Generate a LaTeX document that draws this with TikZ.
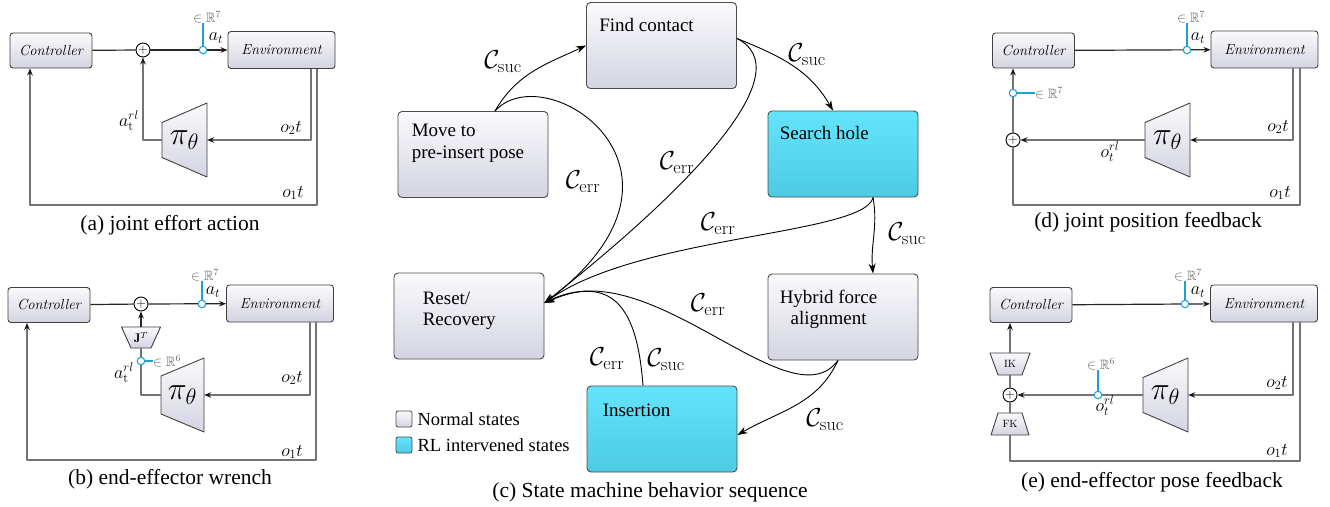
\RequirePackage{fix-cm}
\documentclass[tikz,border=0pt]{standalone}
\usepackage{amssymb}
\usepackage{fontspec}
\newfontfamily\capfont{Liberation Serif}
\usetikzlibrary{arrows.meta}

\definecolor{blocktop}{RGB}{250,250,252}
\definecolor{blockbot}{RGB}{212,212,226}
\definecolor{rltop}{RGB}{100,228,252}
\definecolor{rlbot}{RGB}{78,202,228}
\definecolor{tapblue}{RGB}{30,160,215}

\begin{document}
\begin{tikzpicture}[x=1pt, y=-1pt, line join=round,
    >={Stealth[length=7pt, width=5.5pt, color=black!90]},
    blk/.style={rectangle, rounded corners=3pt, draw=black!75, line width=0.9pt,
        top color=blocktop, bottom color=blockbot,
        minimum width=82pt, minimum height=35pt,
        font=\fontsize{14.6}{16}\selectfont\itshape},
    envblk/.style={blk, minimum width=107pt, minimum height=37pt},
    trap/.style={draw=black!75, line width=0.9pt, top color=blocktop, bottom color=blockbot},
    sum/.style={circle, draw=black, line width=0.9pt, fill=white, minimum size=14pt,
        inner sep=0pt, font=\fontsize{13}{13}\selectfont},
    tap/.style={circle, draw=tapblue, line width=1.1pt, fill=white, minimum size=7.5pt, inner sep=0pt},
    tapline/.style={draw=tapblue, line width=1.1pt},
    sig/.style={draw=black!85, line width=1.2pt},
    obs/.style={draw=black!55, line width=1.6pt},
    lab/.style={font=\fontsize{18}{20}\selectfont, inner sep=0pt},
    dimlab/.style={text=black!60, font=\fontsize{13.5}{15}\selectfont, inner sep=0pt},
    subcap/.style={font=\capfont\fontsize{21.5}{24}\selectfont},
    state/.style={rectangle, rounded corners=4pt, draw=black!70, line width=0.9pt,
        top color=blocktop, bottom color=blockbot, minimum width=150pt, minimum height=86pt},
    rlstate/.style={state, top color=rltop, bottom color=rlbot},
    stext/.style={anchor=north west, inner sep=0pt, align=left,
        font=\capfont\fontsize{19}{21.5}\selectfont},
    trans/.style={draw=black, line width=0.9pt, -{Stealth[length=10pt, width=7pt]}},
    clab/.style={font=\fontsize{26}{28}\selectfont, inner sep=0pt},
    legbox/.style={rectangle, rounded corners=2pt, draw=black!70, line width=0.8pt,
        minimum size=16pt, inner sep=0pt},
    legtext/.style={anchor=west, inner sep=0pt, font=\capfont\fontsize{18.5}{20}\selectfont}]

% trapezoids: name, x, y, half width, left half height, right half height, text
\newcommand{\vtrap}[7]{%
    \shadedraw[trap, shift={(#2,#3)}] (-#4,-#5) -- (-#4,#5) -- (#4,#6) -- (#4,-#6) -- cycle;
    \node[inner sep=0pt, minimum width=2*#4pt, minimum height=2*#6pt,
        font=\fontsize{32}{32}\selectfont] (#1) at (#2,#3) {#7};}
% name, x, y, half height, top half width, bottom half width, text
\newcommand{\htrap}[7]{%
    \shadedraw[trap, shift={(#2,#3)}] (-#5,-#4) -- (#5,-#4) -- (#6,#4) -- (-#6,#4) -- cycle;
    \node[inner sep=0pt, minimum width=2*#6pt, minimum height=2*#4pt,
        font=\fontsize{10.5}{12}\selectfont] (#1) at (#2,#3) {#7};}

\fill[white] (0,0) rectangle (1330,506);
\useasboundingbox (0,0) rectangle (1330,506);

% (a) joint effort action
\begin{scope}
    \node[blk] (ctrla) at (51,50.5) {Controller};
    \node[envblk] (enva) at (281.5,50) {Environment};
    \node[sum] (suma) at (143,50) {$+$};
    \vtrap{pia}{184.5}{140}{22.5}{17.5}{37}{$\pi_\theta$}
    \coordinate (fba) at (30,205);
    \draw[sig] (ctrla) -- (suma);
    \draw[sig, ->] (suma) -- (enva);
    \draw[obs, ->] (pia) -| (suma);
    \draw[obs, ->] ([xshift=29.5pt]enva.south) |- (pia);
    \draw[obs, ->] ([xshift=35.5pt]enva.south) |- (fba) -- (fba |- ctrla.south);
    \node[tap] (tapa) at (203,50) {};
    \node[dimlab] (dima) at (207,17) {$\in\mathbb{R}^7$};
    \draw[tapline] (tapa) -- (tapa |- dima.south);
    \node[lab] (ata) at (216,38) {$a_t$};
    \node[lab] (arla) at (129,121) {$a_{\mathrm{t}}^{rl}$};
    \node[lab] (o2a) at (291,128) {$o_2t$};
    \node[lab] (o1a) at (293,193) {$o_1t$};
    \node[subcap] at (170,225) {(a) joint effort action};
\end{scope}

% (b) end-effector wrench
\begin{scope}[shift={(-2,254)}]
    \node[blk] (ctrlb) at (51,51) {Controller};
    \node[envblk] (envb) at (282,49.5) {Environment};
    \node[sum] (sumb) at (143,50) {$+$};
    \htrap{jtb}{143}{83.5}{10.5}{19.5}{10}{\fontsize{12.5}{12}\selectfont$\mathbf{J}^T$}
    \vtrap{pib}{184.5}{141}{21.5}{19}{37}{$\pi_\theta$}
    \coordinate (fbb) at (29,206);
    \draw[sig] (ctrlb) -- (sumb);
    \draw[sig, ->] (sumb) -- (envb);
    \draw[sig, ->] (jtb) -- (sumb);
    \draw[obs] (pib) -| (jtb);
    \draw[obs, ->] ([xshift=30pt]envb.south) |- (pib);
    \draw[obs, ->] ([xshift=36pt]envb.south) |- (fbb) -- (fbb |- ctrlb.south);
    \node[tap] (tapb) at (204,50) {};
    \node[dimlab] (dimb) at (207,21) {$\in\mathbb{R}^7$};
    \draw[tapline] (tapb) -- (tapb |- dimb.south);
    \node[tap] (tapbb) at (143,107) {};
    \coordinate (ttb) at (155,107);
    \draw[tapline] (tapbb) -- (ttb);
    \node[dimlab, anchor=west] (dimbb) at (ttb) {$\in\mathbb{R}^6$};
    \node[lab] (atb) at (215,38) {$a_t$};
    \node[lab] (arlb) at (126,119) {$a_{\mathrm{t}}^{rl}$};
    \node[lab] (o2b) at (294,124) {$o_2t$};
    \node[lab] (o1b) at (294,198) {$o_1t$};
    \node[subcap] at (172,225) {(b) end-effector wrench};
\end{scope}

% (c) state machine
\node[state, label={[stext, xshift=13pt, yshift=-16pt]north west:Find contact}] (find) at (661.5,45.5) {};
\node[state, label={[stext, xshift=14pt, yshift=-13pt]north west:{Move to\\pre-insert pose}}] (move) at (473,154.5) {};
\node[rlstate, label={[stext, xshift=12pt, yshift=-16pt]north west:Search hole}] (search) at (843,154) {};
\node[state, label={[stext, xshift=29pt, yshift=-19pt]north west:{Reset/\\Recovery}}] (reset) at (469,316) {};
\node[state, label={[stext, align=center, xshift=12pt, yshift=-16pt]north west:{Hybrid force\\alignment}}] (hybrid) at (843,317) {};
\node[rlstate, label={[stext, xshift=16pt, yshift=-18pt]north west:Insertion}] (insert) at (662,429) {};

% success transitions
\draw[trans] ([xshift=22pt]move.north) to[out=60, in=205] (find.west);
\draw[trans] ([yshift=7pt]find.east) to[out=-22, in=120] ([xshift=-10pt]search.north);
\draw[trans] ([xshift=30pt]search.south) to[out=-80, in=95] ([xshift=30pt]hybrid.north);
\draw[trans] ([xshift=-5pt]hybrid.south) to[out=-115, in=30] ([yshift=-6pt]insert.east);

% error transitions all end in reset
\coordinate (sink) at ([yshift=13pt]reset.east);
\draw[trans] ([xshift=22pt]move.north) .. controls (545,55) and (720,170) .. (sink);
\draw[trans] ([yshift=7pt]find.east) .. controls (800,70) and (700,180) .. (sink);
\draw[trans] ([xshift=30pt]search.south) .. controls (865,235) and (640,235) .. (sink);
\draw[trans] ([xshift=-5pt]hybrid.south) .. controls (790,425) and (650,250) .. (sink);
\draw[trans] ([xshift=-19pt]insert.north) .. controls (638,320) and (620,270) .. (sink);

\node[clab] (smf) at (503,62) {$\mathcal{C}_{\mathrm{suc}}$};
\node[clab] (sfs) at (807,55) {$\mathcal{C}_{\mathrm{suc}}$};
\node[clab] (ssh) at (907,234) {$\mathcal{C}_{\mathrm{suc}}$};
\node[clab] (shi) at (825,420) {$\mathcal{C}_{\mathrm{suc}}$};
\node[clab] (sir) at (666,360) {$\mathcal{C}_{\mathrm{suc}}$};
\node[clab] (emr) at (583,182) {$\mathcal{C}_{\mathrm{err}}$};
\node[clab] (efr) at (677,163) {$\mathcal{C}_{\mathrm{err}}$};
\node[clab] (esr) at (718,224) {$\mathcal{C}_{\mathrm{err}}$};
\node[clab] (ehr) at (708,305) {$\mathcal{C}_{\mathrm{err}}$};
\node[clab] (eir) at (607,359) {$\mathcal{C}_{\mathrm{err}}$};

% legend
\node[legbox, top color=blocktop, bottom color=blockbot] (lgnorm) at (404,419) {};
\node[legtext] at ([xshift=5pt]lgnorm.east) {Normal states};
\node[legbox, top color=rltop, bottom color=rlbot] (lgrl) at (404,445) {};
\node[legtext] at ([xshift=5pt]lgrl.east) {RL intervened states};
\node[subcap] at (650,492) {(c) State machine behavior sequence};

% (d) joint position feedback
\begin{scope}[shift={(982,0)}]
    \node[blk] (ctrld) at (51.5,50.5) {Controller};
    \node[envblk] (envd) at (282.5,49.5) {Environment};
    \node[sum] (sumd) at (31,140) {$+$};
    \vtrap{pid}{185.5}{140}{22.5}{17.5}{37}{$\pi_\theta$}
    \coordinate (fbd) at (31,205);
    \draw[sig, ->] (ctrld) -- (envd);
    \draw[obs, ->] (sumd) -- (sumd |- ctrld.south);
    \draw[obs, ->] (pid) -- (sumd);
    \draw[obs, ->] ([xshift=28.5pt]envd.south) |- (pid);
    \draw[obs] ([xshift=35.5pt]envd.south) |- (fbd) -- (sumd);
    \node[tap] (tapd) at (205,50) {};
    \node[dimlab] (dimd) at (209,17) {$\in\mathbb{R}^7$};
    \draw[tapline] (tapd) -- (tapd |- dimd.south);
    \node[tap] (tapdd) at (31,93) {};
    \coordinate (ttd) at (53,93);
    \draw[tapline] (tapdd) -- (ttd);
    \node[dimlab, anchor=west] (dimdd) at (ttd) {$\in\mathbb{R}^7$};
    \node[lab] (atd) at (216,38) {$a_t$};
    \node[lab] (orld) at (128,152) {$o_t^{rl}$};
    \node[lab] (o2d) at (296,127) {$o_2t$};
    \node[lab] (o1d) at (298,193) {$o_1t$};
    \node[subcap] at (166,222) {(d) joint position feedback};
\end{scope}

% (e) end-effector pose feedback
\begin{scope}[shift={(980,254)}]
    \node[blk] (ctrle) at (51,51) {Controller};
    \node[envblk] (enve) at (284,49.5) {Environment};
    \htrap{ike}{30}{110}{11}{20}{12}{IK}
    \node[sum] (sume) at (30,141) {$+$};
    \htrap{fke}{30}{170}{11}{12}{19}{FK}
    \vtrap{pie}{185.5}{141}{22.5}{17.5}{37}{$\pi_\theta$}
    \coordinate (fbe) at (30,207);
    \draw[sig, ->] (ctrle) -- (enve);
    \draw[obs, ->] (ike) -- (ike |- ctrle.south);
    \draw[obs] (ike) -- (sume);
    \draw[obs] (fke) -- (sume);
    \draw[obs, ->] (pie) -- (sume);
    \draw[obs, ->] ([xshift=29pt]enve.south) |- (pie);
    \draw[obs] ([xshift=36pt]enve.south) |- (fbe) -- (fke);
    \node[tap] (tape) at (205,50) {};
    \node[dimlab] (dime) at (208,21) {$\in\mathbb{R}^7$};
    \draw[tapline] (tape) -- (tape |- dime.south);
    \node[tap] (tapee) at (118,141) {};
    \node[dimlab] (dimee) at (121,110) {$\in\mathbb{R}^6$};
    \draw[tapline] (tapee) -- (tapee |- dimee.south);
    \node[lab] (ate) at (218,38) {$a_t$};
    \node[lab] (orle) at (125,152) {$o_t^{rl}$};
    \node[lab] (o2e) at (297,129) {$o_2t$};
    \node[lab] (o1e) at (297,197) {$o_1t$};
    \node[subcap] at (172,228) {(e) end-effector pose feedback};
\end{scope}

\end{tikzpicture}
\end{document}
